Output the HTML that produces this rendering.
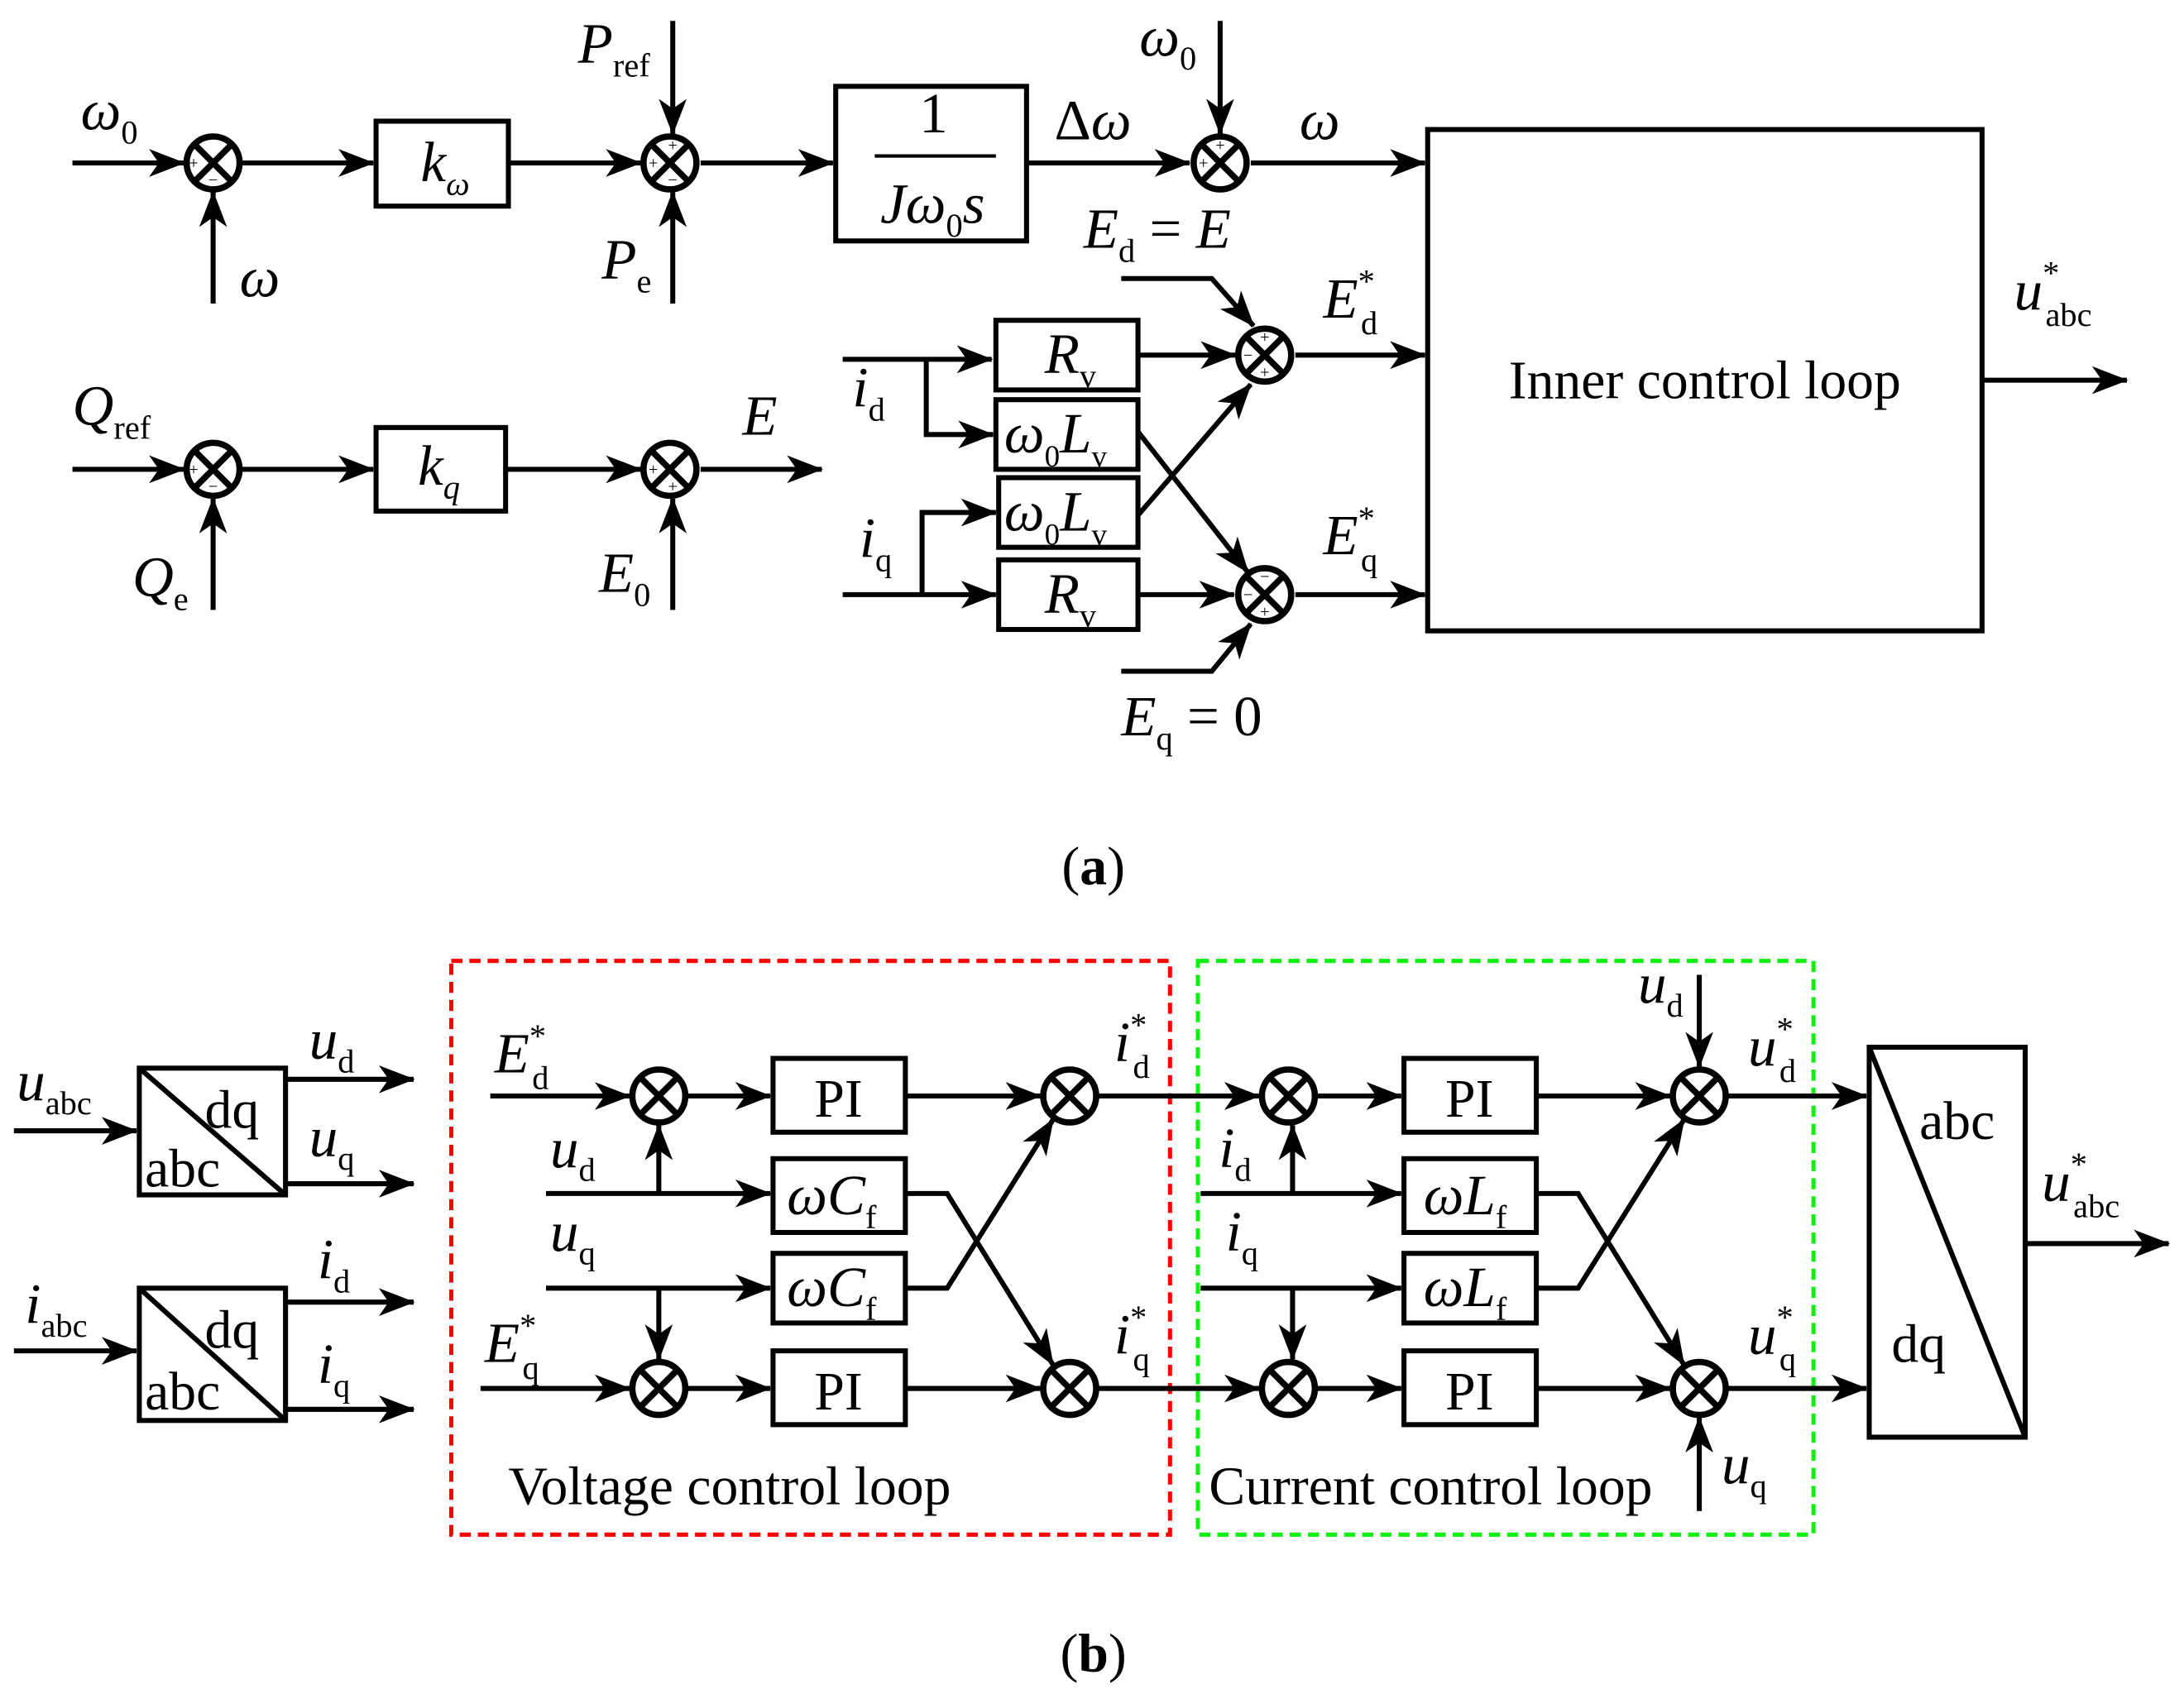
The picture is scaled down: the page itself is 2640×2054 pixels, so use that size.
<!DOCTYPE html>
<html><head><style>html,body{margin:0;padding:0;background:#fff}svg{display:block}</style></head>
<body>
<svg width="2640" height="2054" viewBox="0 0 1568 1220" preserveAspectRatio="none" xmlns="http://www.w3.org/2000/svg">
<defs>
<marker id="a" viewBox="0 0 26 20" refX="25" refY="10" markerWidth="26" markerHeight="20" markerUnits="userSpaceOnUse" orient="auto"><path d="M0,0 L26,10 L0,20 L7,10 Z" fill="#000"/></marker>
<symbol id="s" viewBox="-22 -22 44 44" overflow="visible"><circle cx="0" cy="0" r="19" fill="#fff" stroke="#000" stroke-width="4.5"/><line x1="-13" y1="-13" x2="13" y2="13" stroke="#000" stroke-width="4.5"/><line x1="13" y1="-13" x2="-13" y2="13" stroke="#000" stroke-width="4.5"/></symbol>
</defs>
<g fill="none" stroke="#000" stroke-width="3.6">
<line x1="52" y1="117" x2="132" y2="117" marker-end="url(#a)"/>
<line x1="153" y1="218" x2="153" y2="138" marker-end="url(#a)"/>
<line x1="173" y1="117" x2="268" y2="117" marker-end="url(#a)"/>
<rect x="270" y="87" width="95" height="61"/>
<line x1="365" y1="117" x2="460" y2="117" marker-end="url(#a)"/>
<line x1="483" y1="15" x2="483" y2="96" marker-end="url(#a)"/>
<line x1="483" y1="218" x2="483" y2="138" marker-end="url(#a)"/>
<line x1="503" y1="117" x2="598" y2="117" marker-end="url(#a)"/>
<rect x="600" y="62" width="137" height="111"/>
<line x1="628" y1="112" x2="715" y2="112" stroke-width="2.5"/>
<line x1="737" y1="117" x2="854" y2="117" marker-end="url(#a)"/>
<line x1="876" y1="15" x2="876" y2="96" marker-end="url(#a)"/>
<line x1="898" y1="117" x2="1023" y2="117" marker-end="url(#a)"/>
<rect x="1025" y="93" width="398" height="360"/>
<line x1="1423" y1="273" x2="1527" y2="273" marker-end="url(#a)"/>
<line x1="52" y1="337" x2="132" y2="337" marker-end="url(#a)"/>
<line x1="153" y1="438" x2="153" y2="358" marker-end="url(#a)"/>
<line x1="173" y1="337" x2="268" y2="337" marker-end="url(#a)"/>
<rect x="270" y="307" width="93" height="60"/>
<line x1="363" y1="337" x2="460" y2="337" marker-end="url(#a)"/>
<line x1="483" y1="438" x2="483" y2="358" marker-end="url(#a)"/>
<line x1="503" y1="337" x2="590" y2="337" marker-end="url(#a)"/>
<polyline points="605,258 712,258" marker-end="url(#a)"/>
<polyline points="665,258 665,312 713,312" marker-end="url(#a)"/>
<polyline points="605,427 715,427" marker-end="url(#a)"/>
<polyline points="662,427 662,368 715,368" marker-end="url(#a)"/>
<rect x="715" y="230" width="102" height="50"/>
<rect x="715" y="287" width="102" height="50"/>
<rect x="717" y="343" width="100" height="50"/>
<rect x="717" y="402" width="100" height="50"/>
<line x1="817" y1="255" x2="887" y2="255" marker-end="url(#a)"/>
<line x1="817" y1="427" x2="886" y2="427" marker-end="url(#a)"/>
<line x1="817" y1="310" x2="896" y2="411" marker-end="url(#a)"/>
<line x1="817" y1="370" x2="898" y2="276" marker-end="url(#a)"/>
<polyline points="805,200 870,200 900,234" marker-end="url(#a)"/>
<polyline points="805,482 870,482 898,448" marker-end="url(#a)"/>
<line x1="930" y1="255" x2="1023" y2="255" marker-end="url(#a)"/>
<line x1="930" y1="427" x2="1023" y2="427" marker-end="url(#a)"/>
<line x1="10" y1="812" x2="98" y2="812" marker-end="url(#a)"/>
<rect x="100" y="767" width="105" height="91"/>
<line x1="100" y1="767" x2="205" y2="858"/>
<line x1="205" y1="775" x2="297" y2="775" marker-end="url(#a)"/>
<line x1="205" y1="850" x2="297" y2="850" marker-end="url(#a)"/>
<line x1="10" y1="970" x2="98" y2="970" marker-end="url(#a)"/>
<rect x="100" y="925" width="105" height="95"/>
<line x1="100" y1="925" x2="205" y2="1020"/>
<line x1="205" y1="935" x2="297" y2="935" marker-end="url(#a)"/>
<line x1="205" y1="1012" x2="297" y2="1012" marker-end="url(#a)"/>
<rect x="324" y="690" width="516" height="412" stroke="#f00" stroke-width="3" stroke-dasharray="8,5"/>
<rect x="860" y="690" width="442" height="412" stroke="#1e1" stroke-width="3" stroke-dasharray="8,5"/>
<line x1="352" y1="787" x2="452" y2="787" marker-end="url(#a)"/>
<line x1="493" y1="787" x2="553" y2="787" marker-end="url(#a)"/>
<rect x="555" y="760" width="95" height="53"/>
<line x1="650" y1="787" x2="747" y2="787" marker-end="url(#a)"/>
<line x1="392" y1="857" x2="553" y2="857" marker-end="url(#a)"/>
<line x1="473" y1="857" x2="473" y2="808" marker-end="url(#a)"/>
<rect x="555" y="832" width="95" height="53"/>
<line x1="392" y1="925" x2="553" y2="925" marker-end="url(#a)"/>
<line x1="473" y1="925" x2="473" y2="976" marker-end="url(#a)"/>
<rect x="555" y="900" width="95" height="50"/>
<line x1="345" y1="997" x2="452" y2="997" marker-end="url(#a)"/>
<line x1="493" y1="997" x2="553" y2="997" marker-end="url(#a)"/>
<rect x="555" y="970" width="95" height="53"/>
<line x1="650" y1="997" x2="747" y2="997" marker-end="url(#a)"/>
<polyline points="650,857 680,857 756,980" marker-end="url(#a)"/>
<polyline points="650,925 680,925 756,804" marker-end="url(#a)"/>
<line x1="789" y1="787" x2="904" y2="787" marker-end="url(#a)"/>
<line x1="789" y1="997" x2="904" y2="997" marker-end="url(#a)"/>
<line x1="946" y1="787" x2="1006" y2="787" marker-end="url(#a)"/>
<rect x="1008" y="760" width="95" height="53"/>
<line x1="1103" y1="787" x2="1199" y2="787" marker-end="url(#a)"/>
<line x1="862" y1="857" x2="1006" y2="857" marker-end="url(#a)"/>
<line x1="928" y1="857" x2="928" y2="808" marker-end="url(#a)"/>
<rect x="1008" y="832" width="95" height="53"/>
<line x1="862" y1="925" x2="1006" y2="925" marker-end="url(#a)"/>
<line x1="928" y1="925" x2="928" y2="976" marker-end="url(#a)"/>
<rect x="1008" y="900" width="95" height="50"/>
<line x1="946" y1="997" x2="1006" y2="997" marker-end="url(#a)"/>
<rect x="1008" y="970" width="95" height="53"/>
<line x1="1103" y1="997" x2="1199" y2="997" marker-end="url(#a)"/>
<polyline points="1103,857 1133,857 1209,980" marker-end="url(#a)"/>
<polyline points="1103,925 1133,925 1209,804" marker-end="url(#a)"/>
<line x1="1220" y1="700" x2="1220" y2="766" marker-end="url(#a)"/>
<line x1="1220" y1="1085" x2="1220" y2="1018" marker-end="url(#a)"/>
<line x1="1241" y1="787" x2="1340" y2="787" marker-end="url(#a)"/>
<line x1="1241" y1="997" x2="1340" y2="997" marker-end="url(#a)"/>
<rect x="1342" y="752" width="112" height="280"/>
<line x1="1342" y1="752" x2="1454" y2="1032"/>
<line x1="1454" y1="893" x2="1557" y2="893" marker-end="url(#a)"/>
</g>
<g>
<use href="#s" x="131" y="95" width="44" height="44"/>
<use href="#s" x="459" y="95" width="44" height="44"/>
<use href="#s" x="854" y="95" width="44" height="44"/>
<use href="#s" x="131" y="315" width="44" height="44"/>
<use href="#s" x="459" y="315" width="44" height="44"/>
<use href="#s" x="886" y="233" width="44" height="44"/>
<use href="#s" x="886" y="405" width="44" height="44"/>
<use href="#s" x="451" y="765" width="44" height="44"/>
<use href="#s" x="746" y="765" width="44" height="44"/>
<use href="#s" x="451" y="975" width="44" height="44"/>
<use href="#s" x="746" y="975" width="44" height="44"/>
<use href="#s" x="903" y="765" width="44" height="44"/>
<use href="#s" x="903" y="975" width="44" height="44"/>
<use href="#s" x="1198" y="765" width="44" height="44"/>
<use href="#s" x="1198" y="975" width="44" height="44"/>
</g>
<g font-family="Liberation Serif, serif" font-size="12" text-anchor="middle">
<text x="139" y="121">+</text><text x="153" y="133">−</text>
<text x="483" y="108">+</text><text x="469" y="121">+</text><text x="483" y="133">−</text>
<text x="876" y="108">+</text><text x="864" y="121">+</text>
<text x="139" y="341">+</text><text x="153" y="353">−</text>
<text x="469" y="341">+</text><text x="483" y="353">+</text>
<text x="908" y="246">+</text><text x="896" y="259">−</text><text x="908" y="271">+</text>
<text x="908" y="418">−</text><text x="896" y="431">−</text><text x="908" y="443">+</text>
</g>
<g font-family="Liberation Serif, serif" font-size="41" font-style="italic">
<text x="58" y="93">ω<tspan font-size="24" font-style="normal" dy="10">0</tspan></text>
<text x="172" y="213">ω</text>
<text x="415" y="45">P<tspan font-size="24" font-style="normal" dy="10">ref</tspan></text>
<text x="432" y="200">P<tspan font-size="24" font-style="normal" dy="10">e</tspan></text>
<text x="302" y="130">k<tspan font-size="24" dy="10">ω</tspan></text>
<text x="300" y="348">k<tspan font-size="24" dy="10">q</tspan></text>
<text x="660" y="95" font-style="normal">1</text>
<text x="632" y="160">Jω<tspan font-size="24" font-style="normal" dy="10">0</tspan><tspan dy="-10">s</tspan></text>
<text x="757" y="100" font-style="normal">Δ<tspan font-style="italic">ω</tspan></text>
<text x="818" y="40">ω<tspan font-size="24" font-style="normal" dy="10">0</tspan></text>
<text x="933" y="100">ω</text>
<text x="52" y="305">Q<tspan font-size="24" font-style="normal" dy="10">ref</tspan></text>
<text x="95" y="428">Q<tspan font-size="24" font-style="normal" dy="10">e</tspan></text>
<text x="430" y="425">E<tspan font-size="24" font-style="normal" dy="10">0</tspan></text>
<text x="533" y="312">E</text>
<text x="778" y="178">E<tspan font-size="24" font-style="normal" dy="10">d</tspan><tspan font-style="normal" dy="-10"> = </tspan>E</text>
<text x="612" y="292">i<tspan font-size="24" font-style="normal" dy="10">d</tspan></text>
<text x="617" y="400">i<tspan font-size="24" font-style="normal" dy="10">q</tspan></text>
<text x="750" y="268">R<tspan font-size="24" font-style="normal" dy="10">v</tspan></text>
<text x="721" y="325">ω<tspan font-size="22" font-style="normal" dy="10">0</tspan><tspan dy="-10">L</tspan><tspan font-size="22" font-style="normal" dy="10">v</tspan></text>
<text x="721" y="381">ω<tspan font-size="22" font-style="normal" dy="10">0</tspan><tspan dy="-10">L</tspan><tspan font-size="22" font-style="normal" dy="10">v</tspan></text>
<text x="750" y="440">R<tspan font-size="24" font-style="normal" dy="10">v</tspan></text>
<text x="805" y="528">E<tspan font-size="24" font-style="normal" dy="10">q</tspan><tspan font-style="normal" dy="-10"> = 0</tspan></text>
<text x="950" y="228">E<tspan font-size="24" font-style="normal" dy="-18">*</tspan><tspan font-size="24" font-style="normal" dx="-10" dy="30">d</tspan></text>
<text x="950" y="398">E<tspan font-size="24" font-style="normal" dy="-18">*</tspan><tspan font-size="24" font-style="normal" dx="-10" dy="30">q</tspan></text>
<text x="1446" y="222">u<tspan font-size="24" font-style="normal" dy="-18">*</tspan><tspan font-size="24" font-style="normal" dx="-10" dy="30">abc</tspan></text>
<text x="12" y="790">u<tspan font-size="24" font-style="normal" dy="10">abc</tspan></text>
<text x="18" y="950">i<tspan font-size="24" font-style="normal" dy="10">abc</tspan></text>
<text x="222" y="760">u<tspan font-size="24" font-style="normal" dy="10">d</tspan></text>
<text x="222" y="830">u<tspan font-size="24" font-style="normal" dy="10">q</tspan></text>
<text x="228" y="918">i<tspan font-size="24" font-style="normal" dy="10">d</tspan></text>
<text x="228" y="993">i<tspan font-size="24" font-style="normal" dy="10">q</tspan></text>
<text x="355" y="770">E<tspan font-size="24" font-style="normal" dy="-18">*</tspan><tspan font-size="24" font-style="normal" dx="-10" dy="30">d</tspan></text>
<text x="348" y="978">E<tspan font-size="24" font-style="normal" dy="-18">*</tspan><tspan font-size="24" font-style="normal" dx="-10" dy="30">q</tspan></text>
<text x="395" y="838">u<tspan font-size="24" font-style="normal" dy="10">d</tspan></text>
<text x="395" y="898">u<tspan font-size="24" font-style="normal" dy="10">q</tspan></text>
<text x="800" y="762">i<tspan font-size="24" font-style="normal" dy="-18">*</tspan><tspan font-size="24" font-style="normal" dx="-10" dy="30">d</tspan></text>
<text x="800" y="972">i<tspan font-size="24" font-style="normal" dy="-18">*</tspan><tspan font-size="24" font-style="normal" dx="-10" dy="30">q</tspan></text>
<text x="565" y="872">ωC<tspan font-size="24" font-style="normal" dy="10">f</tspan></text>
<text x="565" y="938">ωC<tspan font-size="24" font-style="normal" dy="10">f</tspan></text>
<text x="875" y="838">i<tspan font-size="24" font-style="normal" dy="10">d</tspan></text>
<text x="880" y="898">i<tspan font-size="24" font-style="normal" dy="10">q</tspan></text>
<text x="1022" y="872">ωL<tspan font-size="24" font-style="normal" dy="10">f</tspan></text>
<text x="1022" y="938">ωL<tspan font-size="24" font-style="normal" dy="10">f</tspan></text>
<text x="1176" y="720">u<tspan font-size="24" font-style="normal" dy="10">d</tspan></text>
<text x="1236" y="1065">u<tspan font-size="24" font-style="normal" dy="10">q</tspan></text>
<text x="1255" y="765">u<tspan font-size="24" font-style="normal" dy="-18">*</tspan><tspan font-size="24" font-style="normal" dx="-10" dy="30">d</tspan></text>
<text x="1255" y="972">u<tspan font-size="24" font-style="normal" dy="-18">*</tspan><tspan font-size="24" font-style="normal" dx="-10" dy="30">q</tspan></text>
<text x="1466" y="862">u<tspan font-size="24" font-style="normal" dy="-18">*</tspan><tspan font-size="24" font-style="normal" dx="-10" dy="30">abc</tspan></text>
</g>
<g font-family="Liberation Serif, serif" font-size="39">
<text x="1224" y="286" text-anchor="middle">Inner control loop</text>
<text x="147" y="810">dq</text><text x="104" y="852">abc</text>
<text x="147" y="968">dq</text><text x="104" y="1012">abc</text>
<text x="602" y="802" text-anchor="middle">PI</text>
<text x="602" y="1012" text-anchor="middle">PI</text>
<text x="1055" y="802" text-anchor="middle">PI</text>
<text x="1055" y="1012" text-anchor="middle">PI</text>
<text x="1378" y="818">abc</text>
<text x="1358" y="978">dq</text>
<text x="365" y="1080">Voltage control loop</text>
<text x="868" y="1080">Current control loop</text>
<text x="785" y="635" text-anchor="middle">(<tspan font-weight="bold">a</tspan>)</text>
<text x="785" y="1200" text-anchor="middle">(<tspan font-weight="bold">b</tspan>)</text>
</g>
</svg>
</body></html>
